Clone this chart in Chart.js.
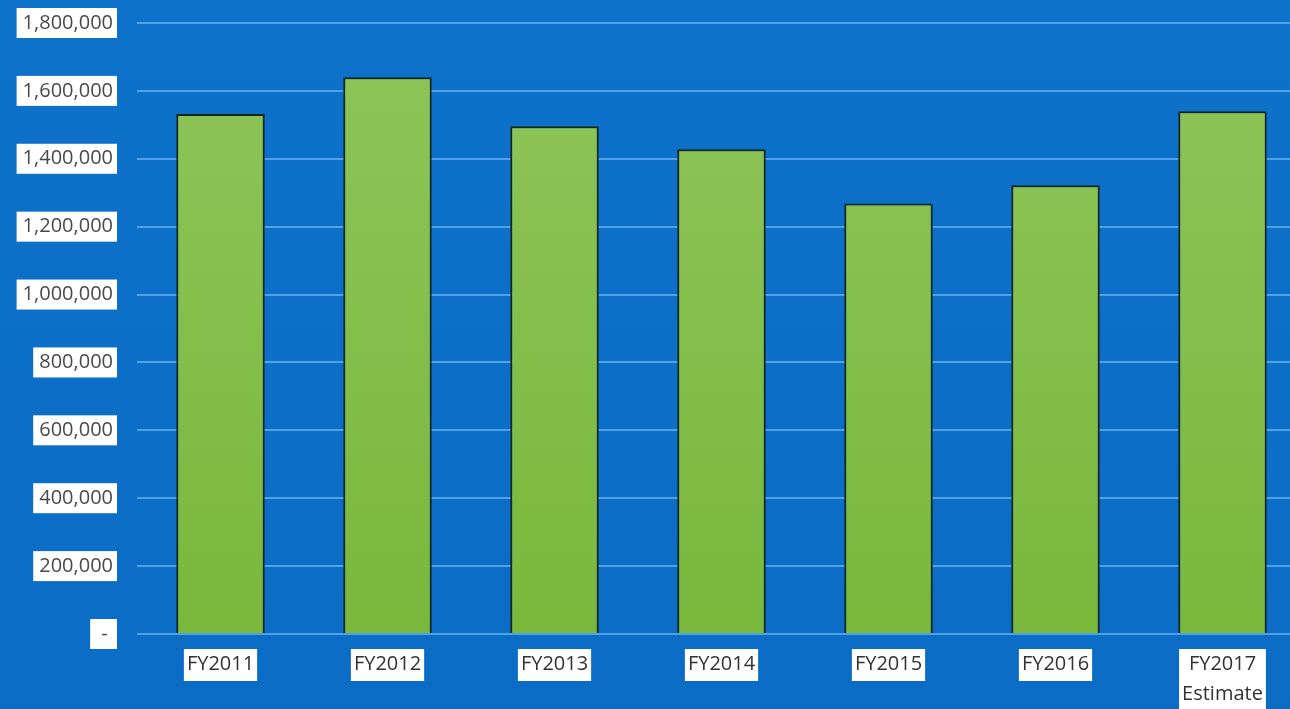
<!DOCTYPE html>
<html>
<head>
<meta charset="utf-8">
<script src="https://cdn.jsdelivr.net/npm/chart.js@4"></script>
<style>
  html, body { margin: 0; padding: 0; overflow: hidden; background: #0b6fca; }
  #wrap { position: absolute; left: 0; top: 0; width: 1306px; height: 709px; }
</style>
</head>
<body>
<div id="wrap"><canvas id="fyChart"></canvas></div>
<script>
const categories = ['FY2011', 'FY2012', 'FY2013', 'FY2014', 'FY2015', 'FY2016', ['FY2017', 'Estimate']];
const values = [1532000, 1640000, 1496000, 1428000, 1268000, 1322000, 1540000];
const yTicks = [0, 200000, 400000, 600000, 800000, 1000000, 1200000, 1400000, 1600000, 1800000];

const xFont = { family: 'Open Sans', size: 20, lineHeight: 1.5 };

// blue backdrop, plus white boxes behind the category labels
const bgPlugin = {
    id: 'bg',
    beforeDraw(chart) {
        const c = chart.ctx;
        const g = c.createLinearGradient(0, 0, 0, chart.height);
        g.addColorStop(0, '#0f72ca');
        g.addColorStop(1, '#0a6cc4');
        c.save();
        c.fillStyle = g;
        c.fillRect(0, 0, chart.width, chart.height);

        const xs = chart.scales.x;
        c.font = xFont.size + 'px "' + xFont.family + '"';
        c.fillStyle = '#ffffff';
        const lh = xFont.size * xFont.lineHeight;
        categories.forEach(function (lab, i) {
            const lines = Array.isArray(lab) ? lab : [lab];
            const w = Math.max.apply(null, lines.map(l => c.measureText(l).width));
            const cx = xs.getPixelForTick(i);
            const top = xs.top + 15;
            c.fillRect(cx - w / 2 - 3, top, w + 6, lines.length * lh + 2);
        });
        c.restore();
    }
};

document.addEventListener('DOMContentLoaded', function () {
    const ctx = document.getElementById('fyChart').getContext('2d');
    new Chart(ctx, {
        type: 'bar',
        data: {
            labels: categories,
            datasets: [{
                data: values,
                backgroundColor: function (context) {
                    const area = context.chart.chartArea;
                    if (!area) return '#86bf4a';
                    const g = context.chart.ctx.createLinearGradient(0, area.top, 0, area.bottom);
                    g.addColorStop(0, '#8fc55a');
                    g.addColorStop(1, '#7ab83c');
                    return g;
                },
                borderColor: '#17261a',
                borderWidth: 2,
                borderSkipped: 'bottom',
                barPercentage: 0.53,
                categoryPercentage: 1
            }]
        },
        options: {
            responsive: true,
            maintainAspectRatio: false,
            animation: false,
            layout: { padding: { top: 23, right: 0, bottom: 0, left: 0 } },
            plugins: {
                legend: { display: false },
                tooltip: { enabled: false }
            },
            scales: {
                x: {
                    grid: { display: false, drawTicks: false },
                    border: { display: false },
                    ticks: {
                        color: '#333',
                        font: xFont,
                        padding: 15,
                        maxRotation: 0,
                        autoSkip: false
                    },
                    afterFit: function (scale) { scale.height = 75; }
                },
                y: {
                    min: 0,
                    max: 1800000,
                    afterBuildTicks: function (scale) {
                        scale.ticks = yTicks.map(v => ({ value: v }));
                    },
                    grid: { color: '#4fa2e6', lineWidth: 2, drawTicks: false },
                    border: { display: false },
                    ticks: {
                        color: '#4a4a4a',
                        font: { family: 'Open Sans', size: 20 },
                        padding: 24,
                        showLabelBackdrop: true,
                        backdropColor: '#ffffff',
                        backdropPadding: { top: 3, bottom: 3, left: 6, right: 4 },
                        callback: function (v) {
                            return v === 0 ? ' - ' : v.toLocaleString('en-US');
                        }
                    },
                    afterFit: function (scale) {
                        scale.width = 137;
                        scale.paddingTop = 0;
                        scale.paddingBottom = 0;
                    }
                }
            }
        },
        plugins: [bgPlugin]
    });
});
</script>
</body>
</html>
